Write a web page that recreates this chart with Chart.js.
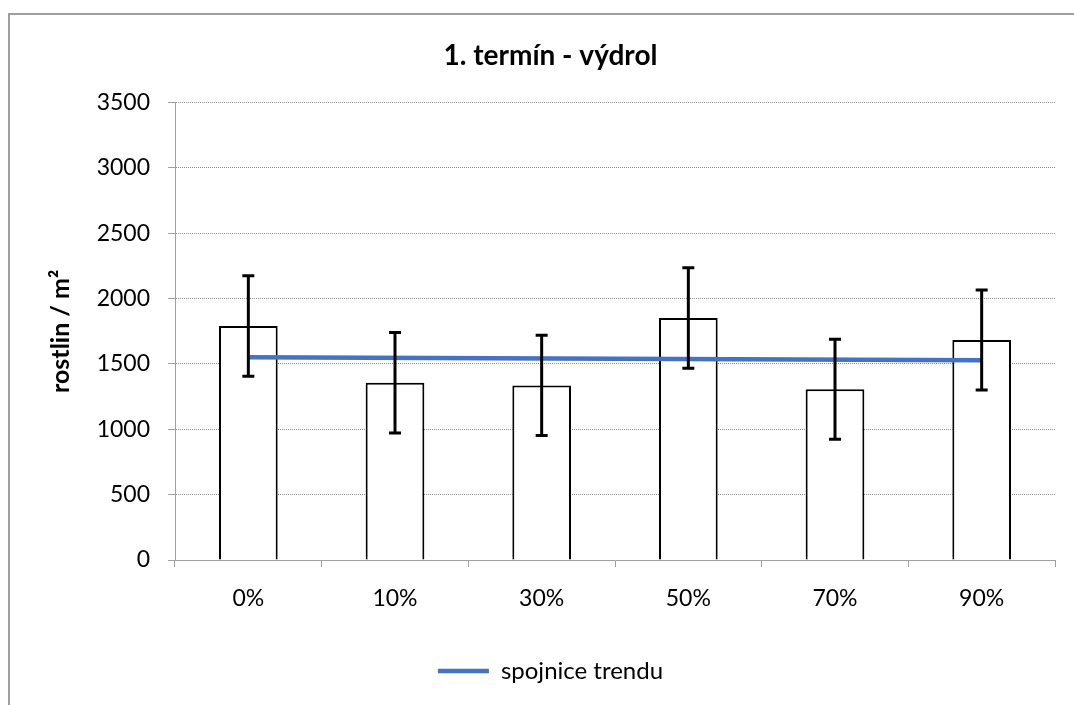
<!DOCTYPE html>
<html>
<head>
<meta charset="utf-8">
<title>1. termín - výdrol</title>
<script src="https://cdn.jsdelivr.net/npm/chart.js@4/dist/chart.umd.min.js"></script>
<style>
  html, body { margin: 0; padding: 0; background: #fff; overflow: hidden; }
  #wrap { position: relative; width: 1074px; height: 705px; }
  #frame {
    position: absolute; left: 8px; top: 13px; width: 1100px; height: 720px;
    border: 2px solid #a0a0a0; box-sizing: border-box;
  }
  #chart { position: absolute; left: 0; top: 0; }
</style>
</head>
<body>
<div id="wrap">
  <div id="frame"></div>
  <canvas id="chart" width="1074" height="705"></canvas>
</div>
<script>
// categories (shading level)
const categories = ['0%', '10%', '30%', '50%', '70%', '90%'];
// plants per m2
const plantCounts = [1791, 1356, 1336, 1852, 1307, 1683];
// error bar half-length (+/-)
const plantErrors = [385, 384, 383, 384, 383, 383];
// trend line, only its two end points are drawn
const trendValues = [1551, null, null, null, null, 1528];
// y axis
const yMin = 0;
const yMax = 3500;
const yStep = 500;

const FONT = 'Lato, "Open Sans", sans-serif';

// draws the error bars on top of everything else
const errorBarPlugin = {
  id: 'errorBars',
  afterDatasetsDraw(chart) {
    const meta = chart.getDatasetMeta(0);
    const yScale = chart.scales.y;
    const ctx = chart.ctx;
    ctx.save();
    ctx.strokeStyle = '#000';
    ctx.lineWidth = 3;
    meta.data.forEach((bar, i) => {
      const x = bar.x;
      const top = yScale.getPixelForValue(plantCounts[i] + plantErrors[i]);
      const bottom = yScale.getPixelForValue(plantCounts[i] - plantErrors[i]);
      const cap = 6;
      ctx.beginPath();
      ctx.moveTo(x, top);
      ctx.lineTo(x, bottom);
      ctx.moveTo(x - cap, top);
      ctx.lineTo(x + cap, top);
      ctx.moveTo(x - cap, bottom);
      ctx.lineTo(x + cap, bottom);
      ctx.stroke();
    });
    ctx.restore();
  }
};

new Chart(document.getElementById('chart'), {
  type: 'bar',
  data: {
    labels: categories,
    datasets: [{
      label: 'rostlin / m²',
      data: plantCounts,
      backgroundColor: '#ffffff',
      borderColor: '#000000',
      borderWidth: 2,
      barPercentage: 0.4,
      categoryPercentage: 1,
      order: 1
    }, {
      type: 'line',
      label: 'spojnice trendu',
      data: trendValues,
      spanGaps: true,
      borderColor: '#4472C4',
      backgroundColor: '#4472C4',
      borderWidth: 4.5,
      pointRadius: 0,
      pointStyle: 'line',
      tension: 0,
      order: 0
    }]
  },
  options: {
    responsive: false,
    animation: false,
    devicePixelRatio: 1,
    layout: {
      padding: { left: 46, top: 39, right: 19, bottom: 12 }
    },
    plugins: {
      title: {
        display: true,
        text: '1. termín - výdrol',
        color: '#000',
        font: { family: FONT, size: 28, weight: 'bold' },
        padding: { top: 0, bottom: 30 }
      },
      legend: {
        display: true,
        position: 'bottom',
        labels: {
          color: '#000',
          font: { family: FONT, size: 24 },
          usePointStyle: true,
          pointStyle: 'line',
          pointStyleWidth: 51,
          padding: 10,
          filter: item => item.datasetIndex === 1
        }
      },
      tooltip: { enabled: false }
    },
    scales: {
      x: {
        offset: true,
        grid: {
          offset: true,
          drawOnChartArea: false,
          drawTicks: true,
          tickLength: 7,
          tickColor: '#a0a0a0',
          tickWidth: 1
        },
        border: { display: true, color: '#a0a0a0', width: 1 },
        ticks: {
          color: '#000',
          font: { family: FONT, size: 23 },
          padding: 18,
          maxRotation: 0
        },
        afterFit(scale) { scale.height = 89; }
      },
      y: {
        min: yMin,
        max: yMax,
        ticks: {
          stepSize: yStep,
          color: '#000',
          font: { family: FONT, size: 23 },
          padding: 18,
          callback: value => String(value)
        },
        grid: {
          color: '#8c8c8c',
          lineWidth: 1,
          tickLength: 7,
          tickColor: '#a0a0a0',
          tickBorderDash: [],
          drawTicks: true
        },
        border: { display: true, color: '#a0a0a0', width: 1, dash: [1, 1] },
        title: {
          display: true,
          text: 'rostlin / m²',
          color: '#000',
          font: { family: FONT, size: 25, weight: 'bold' },
          padding: { top: 0, bottom: 0 }
        },
        afterFit(scale) { scale.width = 129; }
      }
    }
  },
  plugins: [errorBarPlugin]
});
</script>
</body>
</html>
